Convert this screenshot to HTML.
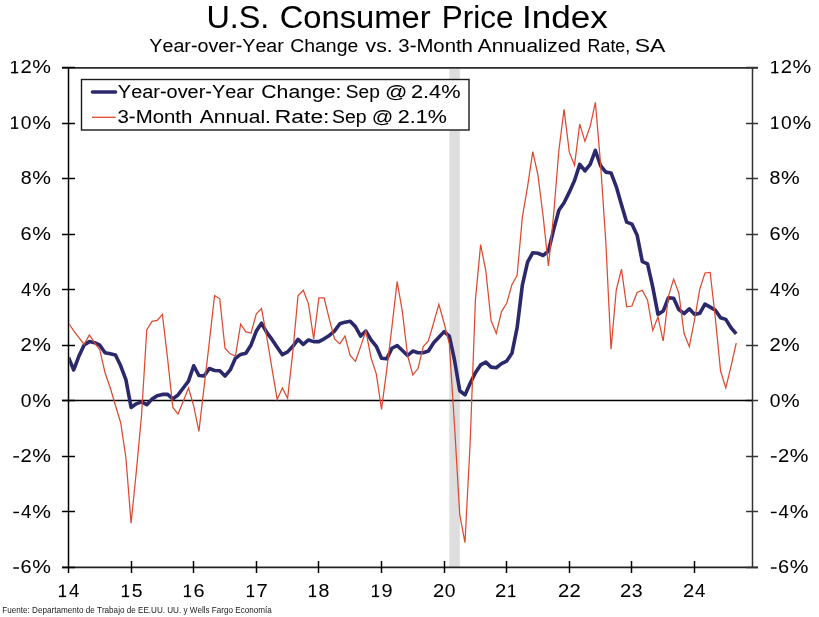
<!DOCTYPE html><html><head><meta charset="utf-8"><style>html,body{margin:0;padding:0;background:#fff;width:819px;height:617px;overflow:hidden}svg{display:block;will-change:transform}#wrap{width:819px;height:617px}text{font-family:"Liberation Sans", sans-serif;fill:#000;stroke:#000;stroke-width:0.05px;font-kerning:none}</style></head><body>
<div id="wrap">
<svg width="819" height="617" viewBox="0 0 819 617">
<text x="206.51" y="27.60" font-size="32.00" textLength="62.84" lengthAdjust="spacingAndGlyphs" stroke="#000" stroke-width="0.12">U.S.</text>
<text x="279.74" y="27.60" font-size="32.00" textLength="150.80" lengthAdjust="spacingAndGlyphs" stroke="#000" stroke-width="0.12">Consumer</text>
<text x="441.82" y="27.60" font-size="32.00" textLength="71.68" lengthAdjust="spacingAndGlyphs" stroke="#000" stroke-width="0.12">Price</text>
<text x="522.06" y="27.60" font-size="32.00" textLength="85.81" lengthAdjust="spacingAndGlyphs" stroke="#000" stroke-width="0.12">Index</text>
<text x="149.37" y="52.10" font-size="17.50" textLength="134.46" lengthAdjust="spacingAndGlyphs">Year-over-Year</text>
<text x="290.21" y="52.10" font-size="17.50" textLength="68.05" lengthAdjust="spacingAndGlyphs">Change</text>
<text x="365.63" y="52.10" font-size="17.50" textLength="27.11" lengthAdjust="spacingAndGlyphs">vs.</text>
<text x="398.33" y="52.10" font-size="17.50" textLength="74.59" lengthAdjust="spacingAndGlyphs">3-Month</text>
<text x="477.76" y="52.10" font-size="17.50" textLength="103.18" lengthAdjust="spacingAndGlyphs">Annualized</text>
<text x="587.64" y="52.10" font-size="17.50" textLength="42.56" lengthAdjust="spacingAndGlyphs">Rate,</text>
<text x="634.66" y="52.10" font-size="17.50" textLength="30.69" lengthAdjust="spacingAndGlyphs">SA</text>
<rect x="449.3" y="69" width="10.5" height="498" fill="#dedede"/>
<g stroke="#000" stroke-width="1.5" fill="none">
<line x1="62" y1="67.8" x2="758" y2="67.8" stroke="#2a2a2a" stroke-width="1.7"/>
<line x1="62" y1="567.3" x2="758" y2="567.3" stroke="#222" stroke-width="1.8"/>
<line x1="68.5" y1="67" x2="68.5" y2="573"/>
<line x1="752.5" y1="67" x2="752.5" y2="568" stroke="#333"/>
<line x1="62" y1="67.5" x2="75" y2="67.5"/>
<line x1="746" y1="67.5" x2="758" y2="67.5" stroke="#333"/>
<line x1="62" y1="123.5" x2="75" y2="123.5"/>
<line x1="746" y1="123.5" x2="758" y2="123.5" stroke="#333"/>
<line x1="62" y1="178.5" x2="75" y2="178.5"/>
<line x1="746" y1="178.5" x2="758" y2="178.5" stroke="#333"/>
<line x1="62" y1="234.5" x2="75" y2="234.5"/>
<line x1="746" y1="234.5" x2="758" y2="234.5" stroke="#333"/>
<line x1="62" y1="289.5" x2="75" y2="289.5"/>
<line x1="746" y1="289.5" x2="758" y2="289.5" stroke="#333"/>
<line x1="62" y1="345.5" x2="75" y2="345.5"/>
<line x1="746" y1="345.5" x2="758" y2="345.5" stroke="#333"/>
<line x1="62" y1="400.5" x2="75" y2="400.5"/>
<line x1="746" y1="400.5" x2="758" y2="400.5" stroke="#333"/>
<line x1="62" y1="456.5" x2="75" y2="456.5"/>
<line x1="746" y1="456.5" x2="758" y2="456.5" stroke="#333"/>
<line x1="62" y1="511.5" x2="75" y2="511.5"/>
<line x1="746" y1="511.5" x2="758" y2="511.5" stroke="#333"/>
<line x1="62" y1="567.5" x2="75" y2="567.5"/>
<line x1="746" y1="567.5" x2="758" y2="567.5" stroke="#333"/>
<line x1="62" y1="400.5" x2="752" y2="400.5" stroke="#000"/>
<line x1="131.5" y1="561" x2="131.5" y2="573"/>
<line x1="193.5" y1="561" x2="193.5" y2="573"/>
<line x1="256.5" y1="561" x2="256.5" y2="573"/>
<line x1="318.5" y1="561" x2="318.5" y2="573"/>
<line x1="381.5" y1="561" x2="381.5" y2="573"/>
<line x1="444.5" y1="561" x2="444.5" y2="573"/>
<line x1="506.5" y1="561" x2="506.5" y2="573"/>
<line x1="569.5" y1="561" x2="569.5" y2="573"/>
<line x1="631.5" y1="561" x2="631.5" y2="573"/>
<line x1="694.5" y1="561" x2="694.5" y2="573"/>
</g>
<g fill="#000"><rect x="11.05" y="71.85" width="7.2" height="1.45"/><rect x="14.05" y="61.00" width="1.75" height="12.30"/><path d="M14.05 61.00 L15.80 61.00 L11.25 64.10 L11.25 62.60 Z"/></g><text x="20.53" y="73.30" font-size="17.50" textLength="11.23" lengthAdjust="spacingAndGlyphs">2</text><text x="32.20" y="73.30" font-size="17.50" textLength="18.70" lengthAdjust="spacingAndGlyphs">%</text>
<g fill="#000"><rect x="771.25" y="71.85" width="7.2" height="1.45"/><rect x="774.25" y="61.00" width="1.75" height="12.30"/><path d="M774.25 61.00 L776.00 61.00 L771.45 64.10 L771.45 62.60 Z"/></g><text x="780.73" y="73.30" font-size="17.50" textLength="11.23" lengthAdjust="spacingAndGlyphs">2</text><text x="792.40" y="73.30" font-size="17.50" textLength="18.70" lengthAdjust="spacingAndGlyphs">%</text>
<g fill="#000"><rect x="11.05" y="127.41" width="7.2" height="1.45"/><rect x="14.05" y="116.56" width="1.75" height="12.30"/><path d="M14.05 116.56 L15.80 116.56 L11.25 119.66 L11.25 118.16 Z"/></g><text x="20.80" y="128.86" font-size="17.50" textLength="10.70" lengthAdjust="spacingAndGlyphs">0</text><text x="32.20" y="128.86" font-size="17.50" textLength="18.70" lengthAdjust="spacingAndGlyphs">%</text>
<g fill="#000"><rect x="771.25" y="127.41" width="7.2" height="1.45"/><rect x="774.25" y="116.56" width="1.75" height="12.30"/><path d="M774.25 116.56 L776.00 116.56 L771.45 119.66 L771.45 118.16 Z"/></g><text x="781.00" y="128.86" font-size="17.50" textLength="10.70" lengthAdjust="spacingAndGlyphs">0</text><text x="792.40" y="128.86" font-size="17.50" textLength="18.70" lengthAdjust="spacingAndGlyphs">%</text>
<text x="20.70" y="184.41" font-size="17.50" textLength="10.90" lengthAdjust="spacingAndGlyphs">8</text><text x="32.20" y="184.41" font-size="17.50" textLength="18.70" lengthAdjust="spacingAndGlyphs">%</text>
<text x="769.60" y="184.41" font-size="17.50" textLength="10.90" lengthAdjust="spacingAndGlyphs">8</text><text x="781.10" y="184.41" font-size="17.50" textLength="18.70" lengthAdjust="spacingAndGlyphs">%</text>
<text x="20.54" y="239.97" font-size="17.50" textLength="11.09" lengthAdjust="spacingAndGlyphs">6</text><text x="32.20" y="239.97" font-size="17.50" textLength="18.70" lengthAdjust="spacingAndGlyphs">%</text>
<text x="769.44" y="239.97" font-size="17.50" textLength="11.09" lengthAdjust="spacingAndGlyphs">6</text><text x="781.10" y="239.97" font-size="17.50" textLength="18.70" lengthAdjust="spacingAndGlyphs">%</text>
<text x="21.02" y="295.52" font-size="17.50" textLength="10.37" lengthAdjust="spacingAndGlyphs">4</text><text x="32.20" y="295.52" font-size="17.50" textLength="18.70" lengthAdjust="spacingAndGlyphs">%</text>
<text x="769.92" y="295.52" font-size="17.50" textLength="10.37" lengthAdjust="spacingAndGlyphs">4</text><text x="781.10" y="295.52" font-size="17.50" textLength="18.70" lengthAdjust="spacingAndGlyphs">%</text>
<text x="20.53" y="351.08" font-size="17.50" textLength="11.23" lengthAdjust="spacingAndGlyphs">2</text><text x="32.20" y="351.08" font-size="17.50" textLength="18.70" lengthAdjust="spacingAndGlyphs">%</text>
<text x="769.43" y="351.08" font-size="17.50" textLength="11.23" lengthAdjust="spacingAndGlyphs">2</text><text x="781.10" y="351.08" font-size="17.50" textLength="18.70" lengthAdjust="spacingAndGlyphs">%</text>
<text x="20.80" y="406.63" font-size="17.50" textLength="10.70" lengthAdjust="spacingAndGlyphs">0</text><text x="32.20" y="406.63" font-size="17.50" textLength="18.70" lengthAdjust="spacingAndGlyphs">%</text>
<text x="769.70" y="406.63" font-size="17.50" textLength="10.70" lengthAdjust="spacingAndGlyphs">0</text><text x="781.10" y="406.63" font-size="17.50" textLength="18.70" lengthAdjust="spacingAndGlyphs">%</text>
<rect x="13.30" y="456.17" width="5.7" height="1.45" fill="#000"/><text x="20.53" y="462.19" font-size="17.50" textLength="11.23" lengthAdjust="spacingAndGlyphs">2</text><text x="32.20" y="462.19" font-size="17.50" textLength="18.70" lengthAdjust="spacingAndGlyphs">%</text>
<rect x="770.90" y="456.17" width="5.7" height="1.45" fill="#000"/><text x="778.13" y="462.19" font-size="17.50" textLength="11.23" lengthAdjust="spacingAndGlyphs">2</text><text x="789.80" y="462.19" font-size="17.50" textLength="18.70" lengthAdjust="spacingAndGlyphs">%</text>
<rect x="13.30" y="511.72" width="5.7" height="1.45" fill="#000"/><text x="21.02" y="517.74" font-size="17.50" textLength="10.37" lengthAdjust="spacingAndGlyphs">4</text><text x="32.20" y="517.74" font-size="17.50" textLength="18.70" lengthAdjust="spacingAndGlyphs">%</text>
<rect x="770.90" y="511.72" width="5.7" height="1.45" fill="#000"/><text x="778.62" y="517.74" font-size="17.50" textLength="10.37" lengthAdjust="spacingAndGlyphs">4</text><text x="789.80" y="517.74" font-size="17.50" textLength="18.70" lengthAdjust="spacingAndGlyphs">%</text>
<rect x="13.30" y="567.28" width="5.7" height="1.45" fill="#000"/><text x="20.54" y="573.30" font-size="17.50" textLength="11.09" lengthAdjust="spacingAndGlyphs">6</text><text x="32.20" y="573.30" font-size="17.50" textLength="18.70" lengthAdjust="spacingAndGlyphs">%</text>
<rect x="770.90" y="567.28" width="5.7" height="1.45" fill="#000"/><text x="778.14" y="573.30" font-size="17.50" textLength="11.09" lengthAdjust="spacingAndGlyphs">6</text><text x="789.80" y="573.30" font-size="17.50" textLength="18.70" lengthAdjust="spacingAndGlyphs">%</text>
<g fill="#000"><rect x="58.95" y="595.65" width="7.2" height="1.45"/><rect x="61.95" y="584.80" width="1.75" height="12.30"/><path d="M61.95 584.80 L63.70 584.80 L59.15 587.90 L59.15 586.40 Z"/></g><text x="68.92" y="597.10" font-size="17.50" textLength="10.37" lengthAdjust="spacingAndGlyphs">4</text>
<g fill="#000"><rect x="121.95" y="595.65" width="7.2" height="1.45"/><rect x="124.95" y="584.80" width="1.75" height="12.30"/><path d="M124.95 584.80 L126.70 584.80 L122.15 587.90 L122.15 586.40 Z"/></g><text x="131.67" y="597.10" font-size="17.50" textLength="10.79" lengthAdjust="spacingAndGlyphs">5</text>
<g fill="#000"><rect x="183.95" y="595.65" width="7.2" height="1.45"/><rect x="186.95" y="584.80" width="1.75" height="12.30"/><path d="M186.95 584.80 L188.70 584.80 L184.15 587.90 L184.15 586.40 Z"/></g><text x="193.44" y="597.10" font-size="17.50" textLength="11.09" lengthAdjust="spacingAndGlyphs">6</text>
<g fill="#000"><rect x="246.95" y="595.65" width="7.2" height="1.45"/><rect x="249.95" y="584.80" width="1.75" height="12.30"/><path d="M249.95 584.80 L251.70 584.80 L247.15 587.90 L247.15 586.40 Z"/></g><text x="256.41" y="597.10" font-size="17.50" textLength="11.26" lengthAdjust="spacingAndGlyphs">7</text>
<g fill="#000"><rect x="308.95" y="595.65" width="7.2" height="1.45"/><rect x="311.95" y="584.80" width="1.75" height="12.30"/><path d="M311.95 584.80 L313.70 584.80 L309.15 587.90 L309.15 586.40 Z"/></g><text x="318.60" y="597.10" font-size="17.50" textLength="10.90" lengthAdjust="spacingAndGlyphs">8</text>
<g fill="#000"><rect x="371.95" y="595.65" width="7.2" height="1.45"/><rect x="374.95" y="584.80" width="1.75" height="12.30"/><path d="M374.95 584.80 L376.70 584.80 L372.15 587.90 L372.15 586.40 Z"/></g><text x="381.52" y="597.10" font-size="17.50" textLength="11.08" lengthAdjust="spacingAndGlyphs">9</text>
<text x="433.13" y="597.10" font-size="17.50" textLength="11.23" lengthAdjust="spacingAndGlyphs">2</text><text x="444.70" y="597.10" font-size="17.50" textLength="10.70" lengthAdjust="spacingAndGlyphs">0</text>
<text x="495.13" y="597.10" font-size="17.50" textLength="11.23" lengthAdjust="spacingAndGlyphs">2</text><g fill="#000"><rect x="508.25" y="595.65" width="7.2" height="1.45"/><rect x="511.25" y="584.80" width="1.75" height="12.30"/><path d="M511.25 584.80 L513.00 584.80 L508.45 587.90 L508.45 586.40 Z"/></g>
<text x="558.13" y="597.10" font-size="17.50" textLength="11.23" lengthAdjust="spacingAndGlyphs">2</text><text x="569.43" y="597.10" font-size="17.50" textLength="11.23" lengthAdjust="spacingAndGlyphs">2</text>
<text x="620.13" y="597.10" font-size="17.50" textLength="11.23" lengthAdjust="spacingAndGlyphs">2</text><text x="631.71" y="597.10" font-size="17.50" textLength="10.79" lengthAdjust="spacingAndGlyphs">3</text>
<text x="683.13" y="597.10" font-size="17.50" textLength="11.23" lengthAdjust="spacingAndGlyphs">2</text><text x="694.92" y="597.10" font-size="17.50" textLength="10.37" lengthAdjust="spacingAndGlyphs">4</text>
<defs><clipPath id="pc"><rect x="69.2" y="0" width="683" height="617"/></clipPath></defs>
<g clip-path="url(#pc)">
<path d="M68.50 357.44 L73.72 369.94 L78.93 356.05 L84.15 344.94 L89.37 341.61 L94.58 342.72 L99.80 345.22 L105.02 352.72 L110.23 353.83 L115.45 354.94 L120.67 365.77 L125.88 379.67 L131.10 407.44 L136.32 403.83 L141.53 401.89 L146.75 404.67 L151.97 399.11 L157.18 395.78 L162.40 394.39 L167.62 394.39 L172.83 398.83 L178.05 394.94 L183.27 388.00 L188.48 381.05 L193.70 365.77 L198.92 375.50 L204.13 376.05 L209.35 368.55 L214.57 370.50 L219.78 370.78 L225.00 376.05 L230.22 369.94 L235.43 358.27 L240.65 354.39 L245.87 353.27 L251.08 344.94 L256.30 331.05 L261.52 323.27 L266.73 332.44 L271.95 339.38 L277.17 347.16 L282.38 354.66 L287.60 351.88 L292.82 346.33 L298.03 339.38 L303.25 344.38 L308.47 339.94 L313.68 341.61 L318.90 341.61 L324.12 338.83 L329.33 335.49 L334.55 331.05 L339.77 323.83 L344.98 322.16 L350.20 321.33 L355.42 326.61 L360.63 336.05 L365.85 331.05 L371.07 339.94 L376.28 346.33 L381.50 358.27 L386.72 358.83 L391.93 348.27 L397.15 345.50 L402.37 350.50 L407.58 355.50 L412.80 351.05 L418.02 352.72 L423.23 352.72 L428.45 351.05 L433.67 342.72 L438.88 337.16 L444.10 331.61 L449.32 336.05 L454.53 360.22 L459.75 390.78 L464.97 394.94 L470.18 383.28 L475.40 372.72 L480.62 364.94 L485.83 362.16 L491.05 367.16 L496.27 367.72 L501.48 363.55 L506.70 361.05 L511.92 353.27 L517.13 327.72 L522.35 285.21 L527.57 262.16 L532.78 252.71 L538.00 253.27 L543.22 255.49 L548.43 251.04 L553.65 229.65 L558.87 210.21 L564.08 202.71 L569.30 192.15 L574.52 180.48 L579.73 164.37 L584.95 170.76 L590.17 164.37 L595.38 150.48 L600.60 165.76 L605.82 172.15 L611.03 172.98 L616.25 186.59 L621.47 204.65 L626.68 222.15 L631.90 224.10 L637.12 235.21 L642.33 261.60 L647.55 263.82 L652.77 287.16 L657.98 314.38 L663.20 311.05 L668.42 297.71 L673.63 298.27 L678.85 309.66 L684.07 313.55 L689.28 308.83 L694.50 314.38 L699.72 313.27 L704.93 304.10 L710.15 307.16 L715.37 310.22 L720.58 317.72 L725.80 319.38 L731.02 327.72 L736.23 333.83" fill="none" stroke="#2b286c" stroke-width="3.6" stroke-linejoin="round" stroke-linecap="butt"/>
<path d="M68.50 322.99 L73.72 330.77 L78.93 337.72 L84.15 344.38 L89.37 334.94 L94.58 342.72 L99.80 349.94 L105.02 372.72 L110.23 387.72 L115.45 405.50 L120.67 422.72 L125.88 457.45 L131.10 523.29 L136.32 471.34 L141.53 415.50 L146.75 329.94 L151.97 321.33 L157.18 320.49 L162.40 314.38 L167.62 358.83 L172.83 407.44 L178.05 414.11 L183.27 401.33 L188.48 388.00 L193.70 406.06 L198.92 431.34 L204.13 386.61 L209.35 342.16 L214.57 295.49 L219.78 298.83 L225.00 348.27 L230.22 353.83 L235.43 356.05 L240.65 324.11 L245.87 331.88 L251.08 332.99 L256.30 313.83 L261.52 308.55 L266.73 336.88 L271.95 368.28 L277.17 399.39 L282.38 388.00 L287.60 398.28 L292.82 352.16 L298.03 295.77 L303.25 290.21 L308.47 303.83 L313.68 338.83 L318.90 297.99 L324.12 297.99 L329.33 319.10 L334.55 338.83 L339.77 343.83 L344.98 336.05 L350.20 355.50 L355.42 361.33 L360.63 346.61 L365.85 330.77 L371.07 358.00 L376.28 373.83 L381.50 409.39 L386.72 369.94 L391.93 326.88 L397.15 281.60 L402.37 311.60 L407.58 355.50 L412.80 374.94 L418.02 368.55 L423.23 346.61 L428.45 340.77 L433.67 322.72 L438.88 304.38 L444.10 323.27 L449.32 343.83 L454.53 425.50 L459.75 514.68 L464.97 542.73 L470.18 442.17 L475.40 299.94 L480.62 244.65 L485.83 270.77 L491.05 320.49 L496.27 333.55 L501.48 311.60 L506.70 303.27 L511.92 284.66 L517.13 275.21 L522.35 217.15 L527.57 186.59 L532.78 151.59 L538.00 175.48 L543.22 217.15 L548.43 266.04 L553.65 214.37 L558.87 150.48 L564.08 109.37 L569.30 152.15 L574.52 165.20 L579.73 124.09 L584.95 141.31 L590.17 126.31 L595.38 102.42 L600.60 164.37 L605.82 242.15 L611.03 349.11 L616.25 290.21 L621.47 269.10 L626.68 306.88 L631.90 306.05 L637.12 292.44 L642.33 290.21 L647.55 300.21 L652.77 330.49 L657.98 316.88 L663.20 341.05 L668.42 296.32 L673.63 279.10 L678.85 293.27 L684.07 333.55 L689.28 346.61 L694.50 320.22 L699.72 289.38 L704.93 272.99 L710.15 272.43 L715.37 318.55 L720.58 371.05 L725.80 388.00 L731.02 366.33 L736.23 343.00" fill="none" stroke="#dd4a30" stroke-width="1.25" stroke-linejoin="miter"/>
</g>
<rect x="81.5" y="79.5" width="387.5" height="50.5" fill="#fff" stroke="#1a1a1a" stroke-width="1.4"/>
<line x1="92.5" y1="92" x2="115.5" y2="92" stroke="#2b286c" stroke-width="3.6" stroke-linecap="round"/>
<line x1="92" y1="117.3" x2="115.7" y2="117.3" stroke="#dd4a30" stroke-width="1.3"/>
<text x="117.86" y="98.30" font-size="17.50" textLength="136.17" lengthAdjust="spacingAndGlyphs">Year-over-Year</text>
<text x="261.32" y="98.30" font-size="17.50" textLength="80.11" lengthAdjust="spacingAndGlyphs">Change:</text>
<text x="345.83" y="98.30" font-size="17.50" textLength="33.97" lengthAdjust="spacingAndGlyphs">Sep</text>
<text x="384.97" y="98.30" font-size="17.50" textLength="22.33" lengthAdjust="spacingAndGlyphs">@</text>
<text x="410.91" y="98.30" font-size="17.50" textLength="49.57" lengthAdjust="spacingAndGlyphs">2.4%</text>
<text x="117.52" y="123.20" font-size="17.50" textLength="74.80" lengthAdjust="spacingAndGlyphs">3-Month</text>
<text x="199.76" y="123.20" font-size="17.50" textLength="71.16" lengthAdjust="spacingAndGlyphs">Annual.</text>
<text x="274.82" y="123.20" font-size="17.50" textLength="54.66" lengthAdjust="spacingAndGlyphs">Rate:</text>
<text x="332.02" y="123.20" font-size="17.50" textLength="34.60" lengthAdjust="spacingAndGlyphs">Sep</text>
<text x="371.84" y="123.20" font-size="17.50" textLength="21.49" lengthAdjust="spacingAndGlyphs">@</text>
<text x="397.72" y="123.20" font-size="17.50" textLength="49.05" lengthAdjust="spacingAndGlyphs">2.1%</text>
<text x="2.3" y="612.6" font-size="9" textLength="269.5" lengthAdjust="spacingAndGlyphs" style="fill:#1a1a1a;stroke:none">Fuente: Departamento de Trabajo de EE.UU. UU. y Wells Fargo Economía</text>
</svg></div></body></html>
